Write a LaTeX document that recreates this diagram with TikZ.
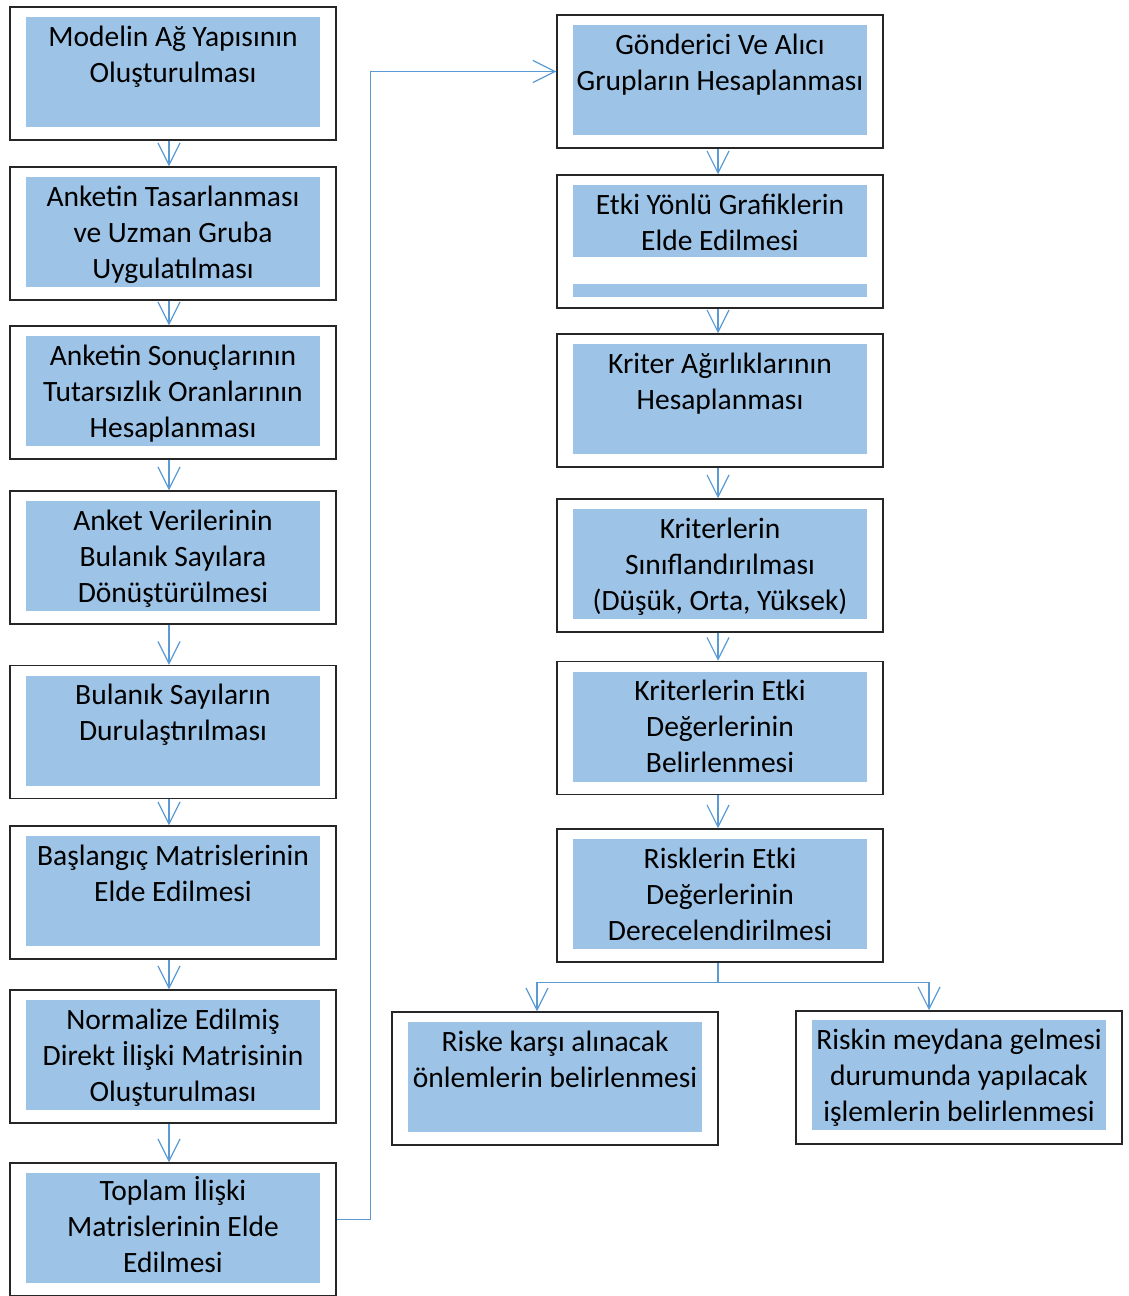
\documentclass[tikz,border=0pt]{standalone}
\usepackage{fontspec}
\setmainfont{Carlito}
\definecolor{boxblue}{RGB}{157,195,230}
\definecolor{lineblue}{RGB}{91,155,213}
\usetikzlibrary{positioning,arrows.meta}
\begin{document}
\begin{tikzpicture}[x=1pt,y=-1pt,
    outer/.style={draw=black!85, line width=1.5pt, minimum width=326pt, minimum height=133pt, inner sep=0pt},
    inner/.style={fill=boxblue, minimum width=294pt, minimum height=110pt, inner sep=0pt},
    lbl/.style={anchor=north, align=center, inner sep=0pt, yshift=-8.5pt, font=\fontsize{29.5}{36}\selectfont},
    arr/.style={draw=lineblue, line width=1.2pt, -{Straight Barb[length=22pt,width=22pt]}},
    link/.style={draw=lineblue, line width=1.2pt}]
    \useasboundingbox (0,0) rectangle (1128,1296);

    %% Left column
    \node[outer] (b1) at (173,73.5) {};
    \node[inner, below=11pt of b1.north] (b1f) {};
    \node[lbl] at (b1f.north) {Modelin Ağ Yapısının\\Oluşturulması};

    \node[outer] (b2) at (173,233.5) {};
    \node[inner, below=11pt of b2.north] (b2f) {};
    \node[lbl] at (b2f.north) {Anketin Tasarlanması\\ve Uzman Gruba\\Uygulatılması};

    \node[outer] (b3) at (173,392.5) {};
    \node[inner, below=11pt of b3.north] (b3f) {};
    \node[lbl] at (b3f.north) {Anketin Sonuçlarının\\Tutarsızlık Oranlarının\\Hesaplanması};

    \node[outer] (b4) at (173,557.5) {};
    \node[inner, below=11pt of b4.north] (b4f) {};
    \node[lbl] at (b4f.north) {Anket Verilerinin\\Bulanık Sayılara\\Dönüştürülmesi};

    \node[outer] (b5) at (173,732) {};
    \node[inner, below=11pt of b5.north] (b5f) {};
    \node[lbl] at (b5f.north) {Bulanık Sayıların\\Durulaştırılması};

    \node[outer] (b6) at (173,892.5) {};
    \node[inner, below=11pt of b6.north] (b6f) {};
    \node[lbl] at (b6f.north) {Başlangıç Matrislerinin\\Elde Edilmesi};

    \node[outer] (b7) at (173,1056.5) {};
    \node[inner, below=11pt of b7.north] (b7f) {};
    \node[lbl] at (b7f.north) {Normalize Edilmiş\\Direkt İlişki Matrisinin\\Oluşturulması};

    \node[outer] (b8) at (173,1229.5) {};
    \node[inner, below=11pt of b8.north] (b8f) {};
    \node[lbl, yshift=5.5pt] at (b8f.north) {Toplam İlişki\\Matrislerinin Elde\\Edilmesi};

    %% Right column
    \node[outer] (r1) at (720,81.5) {};
    \node[inner, below=11pt of r1.north] (r1f) {};
    \node[lbl] at (r1f.north) {Gönderici Ve Alıcı\\Grupların Hesaplanması};

    \node[outer] (r2) at (720,241.5) {};
    \node[inner, minimum height=72pt, below=11pt of r2.north] (r2f) {};
    \node[inner, minimum height=13pt, below=26pt of r2f] (r2s) {};
    \node[lbl] at (r2f.north) {Etki Yönlü Grafiklerin\\Elde Edilmesi};

    \node[outer] (r3) at (720,400.5) {};
    \node[inner, below=11pt of r3.north] (r3f) {};
    \node[lbl] at (r3f.north) {Kriter Ağırlıklarının\\Hesaplanması};

    \node[outer] (r4) at (720,565.5) {};
    \node[inner, below=11pt of r4.north] (r4f) {};
    \node[lbl] at (r4f.north) {Kriterlerin\\Sınıflandırılması\\(Düşük, Orta, Yüksek)};

    \node[outer] (r5) at (720,728) {};
    \node[inner, below=11pt of r5.north] (r5f) {};
    \node[lbl] at (r5f.north) {Kriterlerin Etki\\Değerlerinin\\Belirlenmesi};

    \node[outer] (r6) at (720,895.5) {};
    \node[inner, below=11pt of r6.north] (r6f) {};
    \node[lbl] at (r6f.north) {Risklerin Etki\\Değerlerinin\\Derecelendirilmesi};

    %% Bottom pair
    \node[outer] (q1) at (555,1078.5) {};
    \node[inner, below=11pt of q1.north] (q1f) {};
    \node[lbl] at (q1f.north) {Riske karşı alınacak\\önlemlerin belirlenmesi};

    \node[outer] (q2) at (959,1077.5) {};
    \node[inner, below=10pt of q2.north] (q2f) {};
    \node[lbl] at (q2f.north) {Riskin meydana gelmesi\\durumunda yapılacak\\işlemlerin belirlenmesi};

    %% Arrows
    \draw[arr] ([xshift=-4pt]b1.south) -- ([xshift=-4pt]b2.north);
    \draw[arr] ([xshift=-4pt]b2.south) -- ([xshift=-4pt]b3.north);
    \draw[arr] ([xshift=-4pt]b3.south) -- ([xshift=-4pt]b4.north);
    \draw[arr] ([xshift=-4pt]b4.south) -- ([xshift=-4pt]b5.north);
    \draw[arr] ([xshift=-4pt]b5.south) -- ([xshift=-4pt]b6.north);
    \draw[arr] ([xshift=-4pt]b6.south) -- ([xshift=-4pt]b7.north);
    \draw[arr] ([xshift=-4pt]b7.south) -- ([xshift=-4pt]b8.north);
    \draw[arr] ([yshift=10pt]b8.east) -- ++(34,0) |- ([yshift=10pt]r1.west);

    \draw[arr] ([xshift=-2pt]r1.south) -- ([xshift=-2pt]r2.north);
    \draw[arr] ([xshift=-2pt]r2.south) -- ([xshift=-2pt]r3.north);
    \draw[arr] ([xshift=-2pt]r3.south) -- ([xshift=-2pt]r4.north);
    \draw[arr] ([xshift=-2pt]r4.south) -- ([xshift=-2pt]r5.north);
    \draw[arr] ([xshift=-2pt]r5.south) -- ([xshift=-2pt]r6.north);

    \draw[link] ([xshift=-2pt]r6.south) -- ++(0,20) coordinate (fork);
    \draw[arr] (fork) -| ([xshift=-18pt]q1.north);
    \draw[arr] (fork) -| ([xshift=-30pt]q2.north);

\end{tikzpicture}
\end{document}
